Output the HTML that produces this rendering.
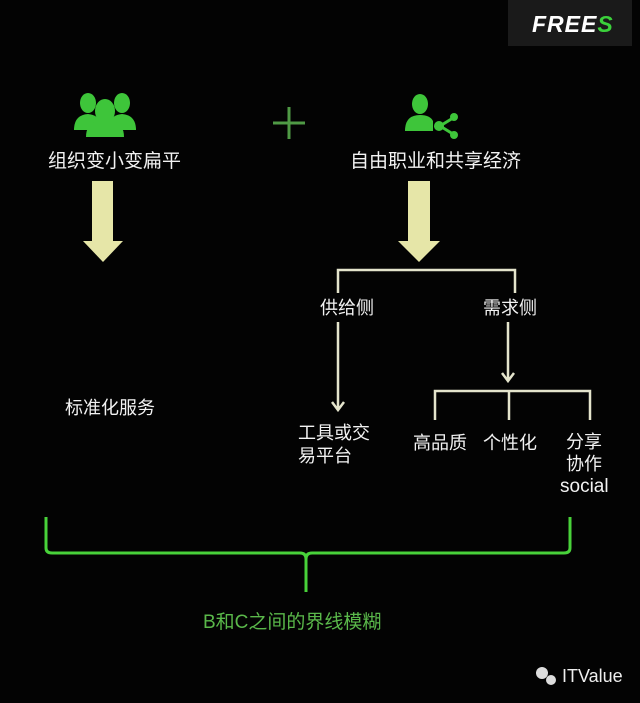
<!DOCTYPE html>
<html><head><meta charset="utf-8"><style>
body{margin:0;width:640px;height:703px;background:#030303;overflow:hidden;position:relative;font-family:"Liberation Sans","Noto Sans CJK SC",sans-serif;color:#f2f2f2}
.t{position:absolute;font-size:19px;white-space:nowrap;line-height:23px}
</style></head><body>
<div style="position:absolute;left:508px;top:0;width:124px;height:46px;background:#1a1a1a"></div>
<div class="t" style="left:532px;top:10px;font-size:23px;font-weight:bold;font-style:italic;letter-spacing:1px;line-height:28px;color:#fff">FREE<span style="color:#3bd13b">S</span></div>
<svg width="640" height="703" style="position:absolute;left:0;top:0">
<g fill="#3ec53a">
<ellipse cx="88" cy="103" rx="8" ry="10"/><path d="M74 130 q0-15 14-16 q10 1 12 8 l-4 8z"/>
<ellipse cx="122" cy="103" rx="8" ry="10"/><path d="M136 130 q0-15 -14-16 q-10 1 -12 8 l4 8z"/>
<ellipse cx="105" cy="111" rx="10" ry="12"/><path d="M86 137 q0-17 19-17 q19 0 19 17z"/>
</g>
<path d="M289 107 v32 M273 123 h32" stroke="#4f9a45" stroke-width="3"/>
<g fill="#3ec53a">
<ellipse cx="420" cy="104" rx="8" ry="10"/><path d="M405 131 q0-16 15-16 q10 0 13 6 v10z"/>
<path d="M440 126 l13-8 M440 126 l13 8" stroke="#3ec53a" stroke-width="3"/>
<circle cx="439" cy="126" r="5"/><circle cx="454" cy="117" r="4"/><circle cx="454" cy="135" r="4"/>
</g>
<g fill="#e6e6a8">
<rect x="92" y="181" width="21" height="60"/><path d="M83 241 h40 l-20 21z"/>
<rect x="408" y="181" width="22" height="60"/><path d="M398 241 h42 l-21 21z"/>
</g>
<g stroke="#e4e4cc" stroke-width="2.5" fill="none">
<path d="M338 293 V270 H515 V293"/>
<path d="M338 322 V409 M332 402 l6 8 6-8"/>
<path d="M508 322 V380 M502 373 l6 8 6-8"/>
<path d="M435 420 V391 H590 V420 M509 391 V420"/>
</g>
<path d="M46 517 V548 q0 5 6 5 H300 q6 0 6 6 V592 M306 559 q0-6 6-6 H564 q6 0 6-5 V517" stroke="#48d23a" stroke-width="3" fill="none"/>
<g fill="#ddd"><circle cx="542" cy="673" r="6"/><circle cx="551" cy="680" r="5"/></g>
</svg>
<div class="t" style="left:48px;top:150px">组织变小变扁平</div>
<div class="t" style="left:350px;top:150px">自由职业和共享经济</div>
<div class="t" style="left:320px;top:297px;font-size:18px">供给侧</div>
<div class="t" style="left:483px;top:297px;font-size:18px">需求侧</div>
<div class="t" style="left:65px;top:397px;font-size:18px">标准化服务</div>
<div class="t" style="left:298px;top:422px;font-size:18px">工具或交<br>易平台</div>
<div class="t" style="left:413px;top:432px;font-size:18px">高品质</div>
<div class="t" style="left:483px;top:432px;font-size:18px">个性化</div>
<div class="t" style="left:566px;top:431px;font-size:18px;line-height:22px">分享<br>协作</div>
<div class="t" style="left:560px;top:475px;font-size:19px">social</div>
<div class="t" style="left:203px;top:611px;color:#5ab84a">B和C之间的界线模糊</div>
<div class="t" style="left:562px;top:665px;font-size:18px;color:#eee">ITValue</div>
</body></html>
